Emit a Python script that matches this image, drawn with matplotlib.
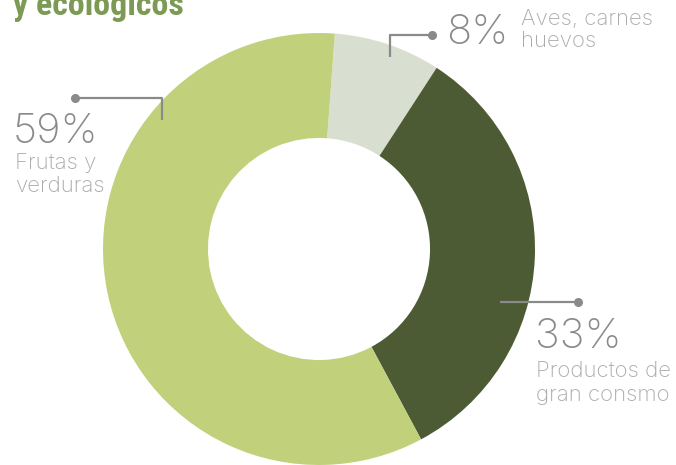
import matplotlib
matplotlib.use("Agg")
import matplotlib.pyplot as plt

categories = ["Aves, carnes\nhuevos", "Productos de\ngran consmo", "Frutas y\nverduras"]
values = [8, 33, 59]
colors = ["#d8ded0", "#4d5b34", "#c1d17b"]
title = "y ecológicos"

W, H = 676, 465
fig = plt.figure(figsize=(W / 100, H / 100), dpi=100)
fig.patch.set_facecolor("white")

cx, cy, R = 319, 249, 216
ax = fig.add_axes([(cx - R) / W, (H - cy - R) / H, 2 * R / W, 2 * R / H])
ax.pie(values, colors=colors, startangle=85.8, counterclock=False,
       radius=1.0, wedgeprops=dict(width=0.486, linewidth=0))
ax.set_xlim(-1, 1)
ax.set_ylim(-1, 1)
ax.set_aspect("equal")
ax.axis("off")

ov = fig.add_axes([0, 0, 1, 1], facecolor="none")
ov.set_xlim(0, W)
ov.set_ylim(H, 0)
ov.axis("off")

title_col = "#7d9a55"
ov.text(13, 15, title, fontsize=24.5, fontweight="bold", color=title_col,
        family=["Roboto Condensed", "DejaVu Sans"], va="baseline", ha="left")

line_col = "#8a8a8c"
pct_col = "#8a8a8a"
lab_col = "#ababab"
thin = dict(family=["Inter", "DejaVu Sans"], fontweight=200)

# leader lines
ov.plot([432, 390, 390], [35, 35, 57], color=line_col, lw=1.6, solid_capstyle="butt")
ov.plot([432], [35], "o", color=line_col, ms=5.5)
ov.plot([75, 162, 162], [98, 98, 120], color=line_col, lw=1.6, solid_capstyle="butt")
ov.plot([75], [98], "o", color=line_col, ms=5.5)
ov.plot([500, 578], [302, 302], color=line_col, lw=1.6, solid_capstyle="butt")
ov.plot([578], [302], "o", color=line_col, ms=5.5)

pcts = [f"{v}%" for v in values]
fs_p = 30
fs_l = 16


def label(x, y_pct, xl, y_lines, pct, cat):
    ov.text(x, y_pct, pct, fontsize=fs_p, color=pct_col, va="baseline", ha="left", **thin)
    for yy, ln in zip(y_lines, cat.split("\n")):
        ov.text(xl, yy, ln, fontsize=fs_l, color=lab_col, va="baseline", ha="left", **thin)


label(446, 44, 521, (25, 47), pcts[0], categories[0])
label(535, 348, 536, (377, 401), pcts[1], categories[1])
label(13, 143, 15, (169, 192), pcts[2], categories[2])

fig.savefig("out.png", dpi=100, facecolor="white")
